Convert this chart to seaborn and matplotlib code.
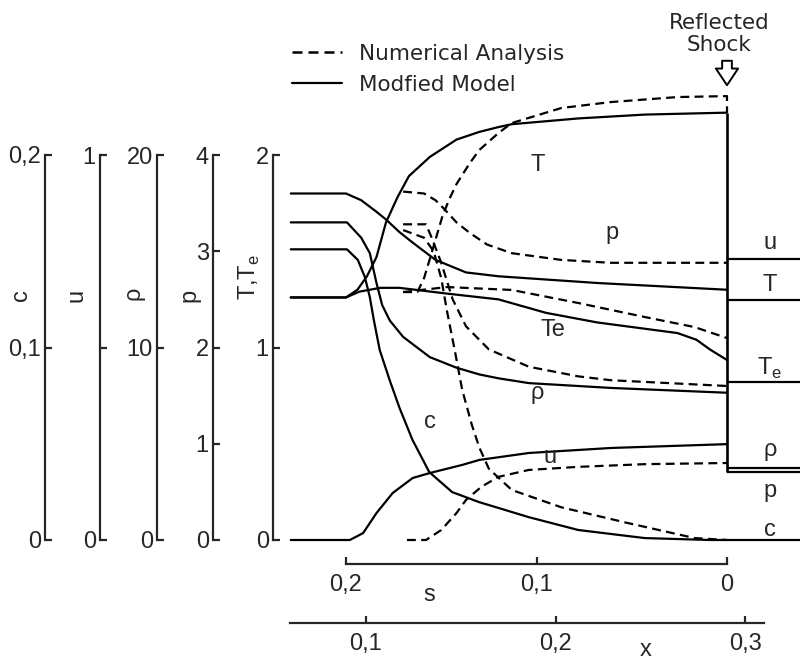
import numpy as np
import seaborn as sns
import matplotlib.pyplot as plt
from matplotlib.lines import Line2D

sns.set_style("white")
plt.rcParams['font.family'] = ['Liberation Sans', 'DejaVu Sans']

# ---- data ----------------------------------------------------------------
# s = distance from reflected shock, values in physical units of each scale

# Modified Model (solid)
s_T_mod = [0.229, 0.200, 0.194, 0.189, 0.184, 0.179, 0.173, 0.167, 0.156, 0.142, 0.130, 0.120, 0.113, 0.078, 0.043, 0.0]
T_mod = [1.26, 1.26, 1.30, 1.37, 1.47, 1.65, 1.78, 1.89, 1.99, 2.08, 2.12, 2.145, 2.16, 2.19, 2.21, 2.22]

s_Te_mod = [0.229, 0.200, 0.193, 0.182, 0.172, 0.147, 0.120, 0.095, 0.068, 0.026, 0.016, 0.009, 0.0]
Te_mod = [1.26, 1.26, 1.29, 1.31, 1.31, 1.28, 1.25, 1.18, 1.13, 1.075, 1.04, 0.99, 0.935]

s_p_mod = [0.229, 0.200, 0.192, 0.184, 0.179, 0.172, 0.165, 0.153, 0.137, 0.120, 0.068, 0.0]
p_mod = [3.60, 3.60, 3.53, 3.41, 3.33, 3.20, 3.09, 2.91, 2.78, 2.74, 2.67, 2.60]

s_rho_mod = [0.229, 0.1995, 0.192, 0.1875, 0.184, 0.181, 0.177, 0.170, 0.156, 0.142, 0.130, 0.120, 0.104, 0.061, 0.0]
rho_mod = [16.5, 16.5, 15.7, 14.9, 13.35, 12.2, 11.4, 10.55, 9.5, 8.95, 8.6, 8.4, 8.15, 7.9, 7.65]

s_c_mod = [0.229, 0.1995, 0.1938, 0.1901, 0.1875, 0.1854, 0.1823, 0.1771, 0.1719, 0.1651, 0.1563, 0.1443,
           0.1302, 0.1198, 0.1042, 0.0781, 0.0432, 0.0089, 0.0]
c_mod = [0.151, 0.151, 0.1455, 0.1366, 0.1262, 0.1143, 0.0987, 0.0831, 0.0686, 0.0520, 0.0353, 0.0249,
         0.0197, 0.0166, 0.0119, 0.0052, 0.0010, 0.0, 0.0]

s_u_mod = [0.229, 0.198, 0.191, 0.184, 0.1755, 0.165, 0.156, 0.139, 0.130, 0.104, 0.061, 0.0]
u_mod = [0.0, 0.0, 0.018, 0.070, 0.122, 0.161, 0.174, 0.195, 0.208, 0.226, 0.239, 0.249]

# Numerical Analysis (dashed)
s_T_num = [0.170, 0.1625, 0.159, 0.156, 0.1526, 0.1495, 0.146, 0.142, 0.135, 0.130, 0.120, 0.113, 0.087, 0.061, 0.026, 0.0, 0.0]
T_num = [1.288, 1.288, 1.361, 1.460, 1.574, 1.678, 1.766, 1.849, 1.958, 2.026, 2.114, 2.166, 2.244, 2.275, 2.301, 2.306, 2.22]

s_Te_num = [0.170, 0.147, 0.113, 0.078, 0.043, 0.017, 0.0]
Te_num = [1.288, 1.314, 1.299, 1.231, 1.158, 1.106, 1.049]

s_p_num = [0.170, 0.159, 0.153, 0.148, 0.142, 0.135, 0.126, 0.113, 0.087, 0.061, 0.0]
p_num = [3.62, 3.60, 3.53, 3.43, 3.30, 3.19, 3.07, 2.98, 2.91, 2.88, 2.88]

s_rho_num = [0.170, 0.158, 0.155, 0.150, 0.144, 0.137, 0.125, 0.104, 0.078, 0.061, 0.0]
rho_num = [16.4, 16.4, 15.7, 14.4, 12.5, 11.1, 9.9, 9.0, 8.5, 8.3, 8.0]

s_c_num = [0.170, 0.159, 0.154, 0.150, 0.147, 0.143, 0.139, 0.134, 0.130, 0.125, 0.113, 0.087, 0.052, 0.017, 0.0]
c_num = [0.161, 0.157, 0.150, 0.136, 0.119, 0.099, 0.078, 0.060, 0.048, 0.037, 0.026, 0.017, 0.0088, 0.001, 0.0]

s_u_num = [0.168, 0.158, 0.150, 0.142, 0.137, 0.129, 0.120, 0.104, 0.078, 0.043, 0.0]
u_num = [0.0, 0.0, 0.026, 0.070, 0.104, 0.138, 0.164, 0.182, 0.190, 0.197, 0.200]

# levels behind the reflected shock (right of s = 0)
post_names = ['u', 'T', 'Te', 'rho', 'p', 'c']
post_vals = [0.730, 1.247, 0.821, 3.74, 0.706, 0.0]

# factor that brings each quantity onto the T,Te scale (0..2)
scale = {'T': 1.0, 'Te': 1.0, 'p': 0.5, 'rho': 0.1, 'u': 2.0, 'c': 10.0}

# ---- figure ----------------------------------------------------------------
W, H = 800, 661
fig = plt.figure(figsize=(W / 100, H / 100), dpi=100)


def fx(px):
    return px / W


def fy(py):
    return 1 - py / H


S0, S_PER = 727, 1905.0   # pixel of s = 0, pixels per unit s
Y0, Y_PER = 540, 192.5    # pixel of T = 0, pixels per unit T
ax = fig.add_axes([0, 0, 1, 1])
ax.set_xlim(S0 / S_PER, (S0 - W) / S_PER)
ax.set_ylim((Y0 - H) / Y_PER, Y0 / Y_PER)
ax.axis('off')

LW = 1.6
DASH = (0, (4, 2.4))
curves = [
    (s_T_mod, T_mod, 'T', '-'), (s_Te_mod, Te_mod, 'Te', '-'), (s_p_mod, p_mod, 'p', '-'),
    (s_rho_mod, rho_mod, 'rho', '-'), (s_c_mod, c_mod, 'c', '-'), (s_u_mod, u_mod, 'u', '-'),
    (s_T_num, T_num, 'T', DASH), (s_Te_num, Te_num, 'Te', DASH), (s_p_num, p_num, 'p', DASH),
    (s_rho_num, rho_num, 'rho', DASH), (s_c_num, c_num, 'c', DASH), (s_u_num, u_num, 'u', DASH),
]
for s, v, key, ls in curves:
    sns.lineplot(x=s, y=np.array(v) * scale[key], ax=ax, color='black', lw=LW,
                 linestyle=ls, sort=False, estimator=None)

# reflected shock front and levels behind it
post_scaled = [v * scale[k] for k, v in zip(post_names, post_vals)]
ax.vlines(0, min(p for p in post_scaled if p > 0), T_mod[-1], color='black', lw=LW + 0.3)
ax.hlines(post_scaled, 0, (S0 - W) / S_PER, color='black', lw=LW)

# curve labels
FS = 17
inside = [('T', 0.0992, 1.948), ('p', 0.0604, 1.595), ('Te', 0.0913, 1.091),
          ('ρ', 0.0997, 0.764), ('u', 0.0929, 0.431), ('c', 0.156, 0.613)]
for t, s, y in inside:
    ax.text(s, y, t, fontsize=FS, ha='center', va='center')
right = [('u', 1.543), ('T', 1.325), (r'T$_\mathregular{e}$', 0.894), ('ρ', 0.468),
         ('p', 0.255), ('c', 0.052)]
for t, y in right:
    ax.text(-0.0226, y, t, fontsize=FS, ha='center', va='center')

# "Reflected Shock" arrow
ax.text(0.004, (Y0 - 34) / Y_PER, 'Reflected\nShock', fontsize=15.5, ha='center', va='center',
        linespacing=1.1, family='DejaVu Sans')
ax.annotate('', xy=(0.0, (Y0 - 88) / Y_PER), xytext=(0.0, (Y0 - 58) / Y_PER),
            arrowprops=dict(arrowstyle='simple,head_width=0.8,head_length=0.6,tail_width=0.35',
                            fc='white', ec='black', lw=1.4, mutation_scale=20))

# legend
handles = [Line2D([], [], color='black', lw=1.8, linestyle=DASH),
           Line2D([], [], color='black', lw=LW)]
ax.legend(handles, ['Numerical Analysis', 'Modfied Model'], loc='upper left',
          bbox_to_anchor=(fx(292), fy(44)), frameon=False, handlelength=2.3,
          handletextpad=0.8, labelspacing=0.5, borderpad=0, borderaxespad=0,
          prop={'family': 'DejaVu Sans', 'size': 15.5})

# ---- stacked vertical scales on the left -----------------------------------
left_scales = [
    (45, 'c', 0.2, [0, 0.1, 0.2], ['0', '0,1', '0,2'], 295),
    (100, 'u', 1.0, [0, 0.5, 1.0], ['0', '', '1'], 295),
    (157, 'ρ', 20, [0, 10, 20], ['0', '10', '20'], 293),
    (213, 'p', 4, [0, 1, 2, 3, 4], ['0', '1', '2', '3', '4'], 295),
    (273, r'T,T$_\mathregular{e}$', 2, [0, 1, 2], ['0', '1', '2'], 277),
]
for px, lab, top, ticks, tlabs, ly in left_scales:
    a = fig.add_axes([fx(px), fy(Y0), 0.0005, 2 * Y_PER / H])
    a.set_ylim(0, top)
    a.set_xticks([])
    a.set_yticks(ticks)
    a.set_yticklabels(tlabs)
    for side in ['top', 'right', 'bottom']:
        a.spines[side].set_visible(False)
    a.spines['left'].set_linewidth(1.6)
    a.tick_params(axis='y', direction='in', length=5, width=1.6, pad=3, labelsize=FS, left=True)
    a.patch.set_alpha(0)
    fig.text(fx(px - 24), fy(ly), lab, rotation=90, fontsize=FS, ha='center', va='center')

# ---- s axis and x axis at the bottom ---------------------------------------
sax = fig.add_axes([fx(346), fy(564), fx(S0) - fx(346), 0.0005])
sax.set_xlim(0.2, 0)
sax.set_xticks([0.2, 0.1, 0])
sax.set_xticklabels(['0,2', '0,1', '0'])
sax.set_yticks([])
xax = fig.add_axes([fx(290), fy(623), fx(764) - fx(290), 0.0005])
xax.set_xlim(0.1 - 76 / 1895, 0.3 + 19 / 1895)
xax.set_xticks([0.1, 0.2, 0.3])
xax.set_xticklabels(['0,1', '0,2', '0,3'])
xax.set_yticks([])
for a in (sax, xax):
    for side in ['top', 'right', 'left']:
        a.spines[side].set_visible(False)
    a.spines['bottom'].set_linewidth(1.6)
    a.tick_params(axis='x', direction='in', length=5, width=1.6, pad=7, labelsize=FS, bottom=True)
    a.patch.set_alpha(0)
fig.text(fx(429), fy(595), 's', fontsize=FS, ha='center', va='center')
fig.text(fx(646), fy(650), 'x', fontsize=FS, ha='center', va='center')

fig.savefig('out.png', dpi=100, facecolor='white')
